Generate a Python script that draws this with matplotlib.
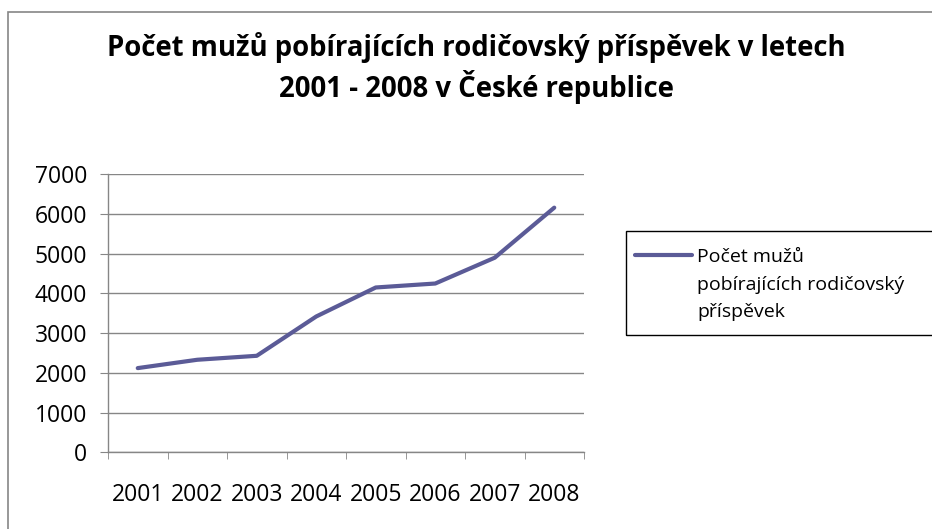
import matplotlib.pyplot as plt
from matplotlib.patches import Rectangle

# data
roky = ['2001', '2002', '2003', '2004', '2005', '2006', '2007', '2008']
pocet_muzu = [2120, 2330, 2430, 3420, 4150, 4250, 4900, 6160]
y_ticks = [0, 1000, 2000, 3000, 4000, 5000, 6000, 7000]

nazev_1 = 'Počet mužů pobírajících rodičovský příspěvek v letech'
nazev_2 = '2001 - 2008 v České republice'
popisek = ['Počet mužů', 'pobírajících rodičovský', 'příspěvek']

plt.rcParams['font.family'] = ['Open Sans', 'DejaVu Sans']

W, H = 932, 529
PX = 0.72  # points per pixel at dpi 100
fig = plt.figure(figsize=(W / 100, H / 100), dpi=100)

# chart area border (runs off right/bottom edge)
fig.patches.append(Rectangle((8 / W, -0.1), 1.1, 1 - 12 / H + 0.1,
                             transform=fig.transFigure, fill=False,
                             edgecolor='#868686', linewidth=1.2))

ax = fig.add_axes([108 / W, 1 - 452.3 / H, (584 - 108) / W, (452.3 - 174.3) / H])

x = [i + 0.5 for i in range(len(roky))]
ax.plot(x, pocet_muzu, color='#5B5B97', linewidth=3, solid_capstyle='round',
        label=popisek[0])

ax.set_xlim(0, len(roky))
ax.set_ylim(0, 7000)
ax.set_yticks(y_ticks)
ax.set_xticks(x)
ax.set_xticklabels(roky)
ax.set_xticks(range(len(roky) + 1), minor=True)

gray = '#868686'
ax.grid(axis='y', color=gray, linewidth=1)
ax.set_axisbelow(True)
for s in ['top', 'right']:
    ax.spines[s].set_visible(False)
for s in ['left', 'bottom']:
    ax.spines[s].set_color(gray)
    ax.spines[s].set_linewidth(1)

ax.tick_params(axis='y', direction='out', length=8 * PX, color=gray,
               labelsize=16.5, pad=13 * PX)
ax.tick_params(axis='x', which='major', length=0, labelsize=16.5, pad=31 * PX)
ax.tick_params(axis='x', which='minor', direction='out', length=7 * PX, color=gray)

fig.text(476 / W, 1 - 56 / H, nazev_1, ha='center', va='baseline',
         fontsize=19.8, fontweight='bold')
fig.text(476 / W, 1 - 97 / H, nazev_2, ha='center', va='baseline',
         fontsize=19.8, fontweight='bold')

# legend box, it runs past the right edge like in the original
fig.patches.append(Rectangle((626 / W, 1 - 335 / H), 0.5, (335 - 231) / H,
                             transform=fig.transFigure, fill=False,
                             edgecolor='black', linewidth=1))
leg_fs = 14
leg = ax.legend(loc='center left', bbox_to_anchor=(635 / W, 1 - 257 / H),
                bbox_transform=fig.transFigure, fontsize=leg_fs, frameon=False,
                handlelength=57 / (leg_fs / PX), handletextpad=5 / (leg_fs / PX),
                borderpad=0, borderaxespad=0)
for i, radek in enumerate(popisek[1:]):
    fig.text(697 / W, 1 - (290 + 27 * i) / H, radek, ha='left', va='baseline',
             fontsize=leg_fs)

fig.savefig('out.png', dpi=100)
